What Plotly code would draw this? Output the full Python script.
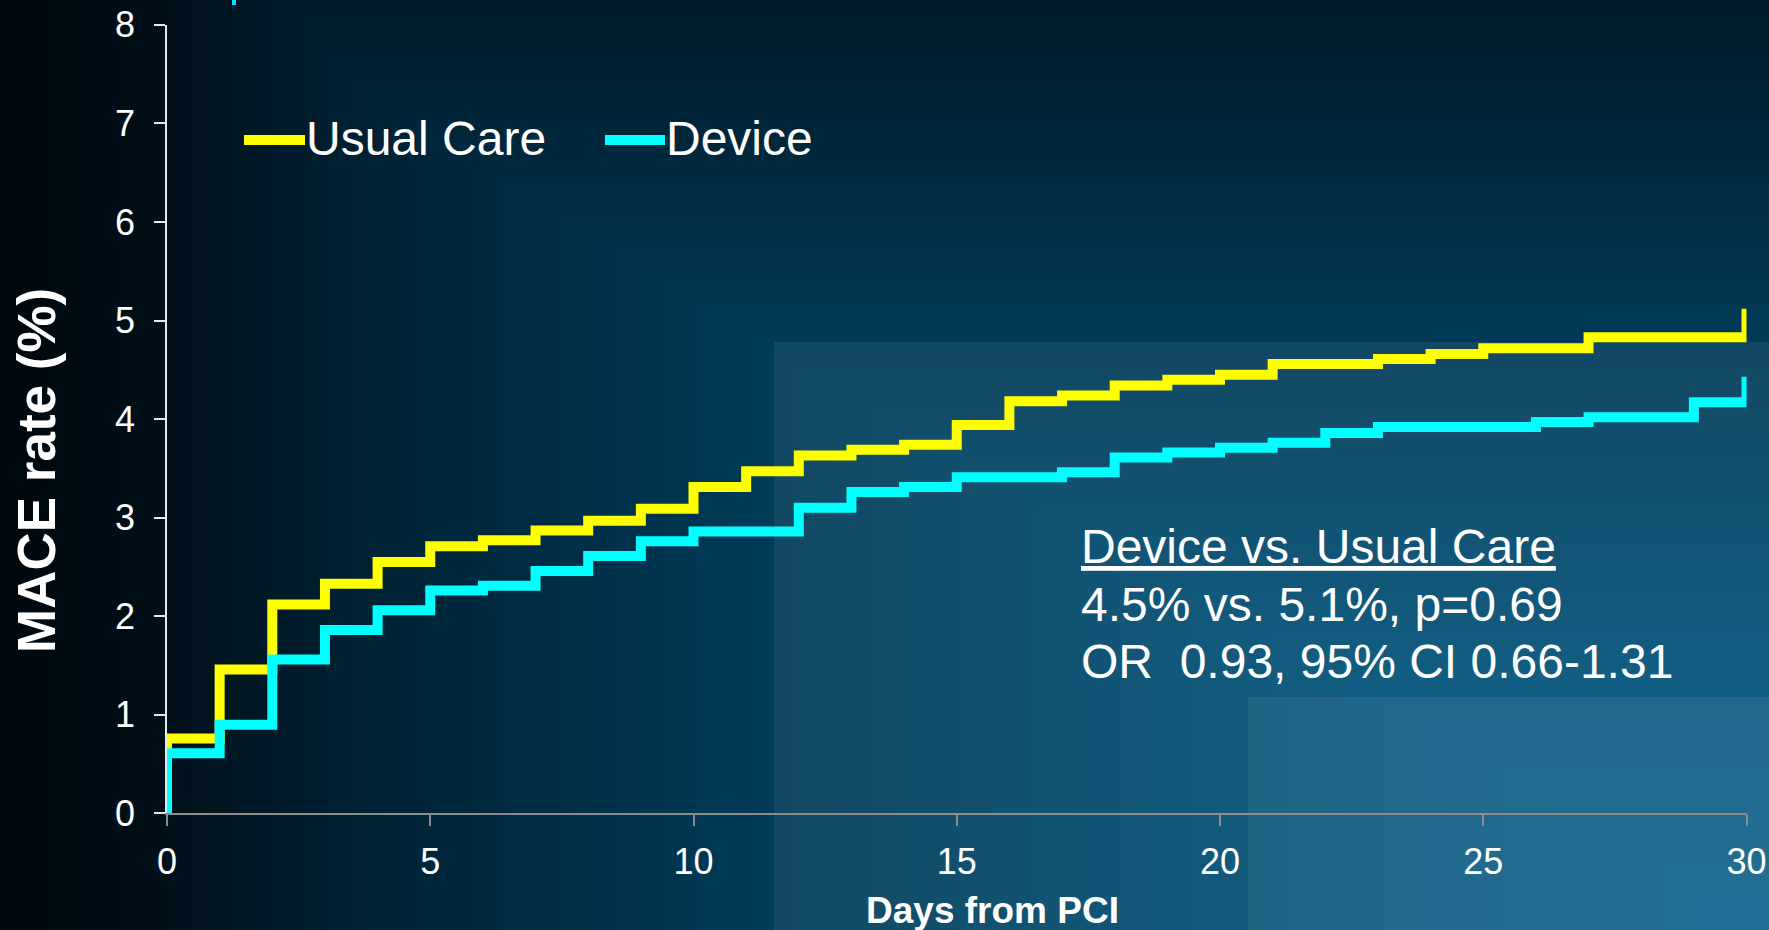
import zlib
import struct
import base64
import numpy as np
import plotly.graph_objects as go

W, H = 1769, 930

# ---------------- data ----------------
days = [0, 0, 1, 2, 3, 4, 5, 6, 7, 8, 9, 10, 11, 12, 13, 14, 15, 16, 17, 18,
        19, 20, 21, 22, 23, 24, 25, 26, 27, 28, 29, 30]
usual_care = [0.00, 0.76, 1.46, 2.12, 2.33, 2.55, 2.71, 2.77, 2.87, 2.97, 3.09,
              3.31, 3.47, 3.63, 3.69, 3.74, 3.94, 4.18, 4.24, 4.34, 4.40, 4.45,
              4.56, 4.56, 4.61, 4.66, 4.72, 4.72, 4.83, 4.83, 4.83, 5.12]
device = [0.00, 0.61, 0.90, 1.56, 1.86, 2.06, 2.26, 2.31, 2.46, 2.61, 2.76,
          2.86, 2.86, 3.10, 3.26, 3.31, 3.41, 3.41, 3.46, 3.61, 3.66, 3.71,
          3.76, 3.86, 3.92, 3.92, 3.92, 3.97, 4.02, 4.02, 4.17, 4.43]
series_names = ["Usual Care", "Device"]
x_ticks = [0, 5, 10, 15, 20, 25, 30]
y_ticks = [0, 1, 2, 3, 4, 5, 6, 7, 8]
x_title = "Days from PCI"
y_title = "MACE rate (%)"
stats_lines = ["<u>Device vs. Usual Care</u>",
               "4.5% vs. 5.1%, p=0.69",
               "OR  0.93, 95% CI 0.66-1.31"]

# ---------------- helpers ----------------
def px(x):
    return x / W


def py(y):
    return 1 - y / H


FONT = "Liberation Sans, Arial, sans-serif"
YELLOW = "#ffff00"
CYAN = "#00ffff"


def gradient_png():
    gw, gh = 354, 186
    xs = (np.arange(gw) + 0.5) * W / gw
    ys = (np.arange(gh) + 0.5) * H / gh
    tx = np.interp(xs, [0, 150, 350, 750, 1250, 1769], [0, 0.09, 0.30, 0.60, 0.84, 1.0])
    ty = np.interp(ys, [0, 60, 340, 650, 930], [0.24, 0.28, 0.60, 0.86, 1.0])
    t = np.minimum(tx[None, :], ty[:, None])
    dark = np.array([0, 8, 14], dtype=float)
    bright = np.array([0, 92, 136], dtype=float)
    img = np.clip(dark + t[..., None] * (bright - dark), 0, 255).astype(np.uint8)
    raw = b"".join(b"\x00" + img[j].tobytes() for j in range(gh))

    def chunk(tag, data):
        c = struct.pack(">I", len(data)) + tag + data
        return c + struct.pack(">I", zlib.crc32(tag + data) & 0xFFFFFFFF)

    png = (b"\x89PNG\r\n\x1a\n"
           + chunk(b"IHDR", struct.pack(">IIBBBBB", gw, gh, 8, 2, 0, 0, 0))
           + chunk(b"IDAT", zlib.compress(raw, 9))
           + chunk(b"IEND", b""))
    return "data:image/png;base64," + base64.b64encode(png).decode()


# plot area in pixels
X0, X1 = 167, 1746.5
Y_TOP, Y_BOT = 24.8, 813.4

fig = go.Figure()
fig.add_trace(go.Scatter(x=days, y=usual_care, mode="lines", line_shape="hv",
                         line=dict(color=YELLOW, width=10), name=series_names[0],
                         hoverinfo="skip"))
fig.add_trace(go.Scatter(x=days, y=device, mode="lines", line_shape="hv",
                         line=dict(color=CYAN, width=10), name=series_names[1],
                         hoverinfo="skip"))

shapes = [
    dict(type="rect", xref="paper", yref="paper", x0=px(774), x1=1, y0=0, y1=py(342),
         fillcolor="rgba(255,255,255,0.07)", line=dict(width=0), layer="below"),
    dict(type="rect", xref="paper", yref="paper", x0=px(1248), x1=1, y0=0, y1=py(697),
         fillcolor="rgba(255,255,255,0.065)", line=dict(width=0), layer="below"),
    dict(type="rect", xref="paper", yref="paper", x0=px(232), x1=px(236), y0=py(5), y1=1,
         fillcolor="#00e5f5", line=dict(width=0), layer="above"),
    # legend samples
    dict(type="line", xref="paper", yref="paper", x0=px(244), x1=px(305), y0=py(140), y1=py(140),
         line=dict(color=YELLOW, width=10), layer="above"),
    dict(type="line", xref="paper", yref="paper", x0=px(605), x1=px(665), y0=py(140), y1=py(140),
         line=dict(color=CYAN, width=10), layer="above"),
]

annotations = [
    dict(text=series_names[0], x=px(304), y=py(139), xref="paper", yref="paper",
         xanchor="left", yanchor="middle", showarrow=False,
         font=dict(family=FONT, size=48, color="white")),
    dict(text=series_names[1], x=px(664), y=py(139), xref="paper", yref="paper",
         xanchor="left", yanchor="middle", showarrow=False,
         font=dict(family=FONT, size=48, color="white")),
    dict(text="<b>" + y_title + "</b>", x=px(36), y=py(471), xref="paper", yref="paper",
         xanchor="center", yanchor="middle", textangle=-90, showarrow=False,
         font=dict(family=FONT, size=53, color="white")),
    dict(text="<b>" + x_title + "</b>", x=px(992), y=py(910), xref="paper", yref="paper",
         xanchor="center", yanchor="middle", showarrow=False,
         font=dict(family=FONT, size=37, color="white")),
]
for line_text, cy in zip(stats_lines, [546, 604, 661]):
    annotations.append(dict(text=line_text, x=px(1079), y=py(cy), xref="paper", yref="paper",
                            xanchor="left", yanchor="middle", showarrow=False,
                            font=dict(family=FONT, size=48, color="white")))

fig.update_layout(
    template="none",
    width=W, height=H, autosize=False,
    margin=dict(l=0, r=0, t=0, b=0, pad=0, autoexpand=False),
    paper_bgcolor="#011822",
    plot_bgcolor="rgba(0,0,0,0)",
    showlegend=False,
    shapes=shapes,
    annotations=annotations,
    images=[dict(source=gradient_png(), xref="paper", yref="paper", x=0, y=1,
                 sizex=1, sizey=1, xanchor="left", yanchor="top",
                 sizing="stretch", layer="below")],
    xaxis=dict(domain=[px(X0), px(X1)], range=[0, 30], tickvals=x_ticks,
               automargin=False,
               showgrid=False, zeroline=False, showline=True,
               linecolor="#8c8c8c", linewidth=2, ticks="outside", ticklen=11,
               tickwidth=2, tickcolor="#8c8c8c", ticklabelstandoff=4,
               tickfont=dict(family=FONT, size=36, color="white"), fixedrange=True),
    yaxis=dict(domain=[py(Y_BOT), py(Y_TOP)], range=[0, 8], tickvals=y_ticks,
               automargin=False,
               showgrid=False, zeroline=False, showline=True,
               linecolor="#e8e8e8", linewidth=1.5, ticks="outside", ticklen=11,
               tickwidth=1.5, tickcolor="#e8e8e8", ticklabelstandoff=12,
               tickfont=dict(family=FONT, size=36, color="white"), fixedrange=True),
)

fig.write_html("out.html", config={"displayModeBar": False},
               post_script="document.body.style.margin='0';document.body.style.overflow='hidden';document.body.style.background='#011822';")
